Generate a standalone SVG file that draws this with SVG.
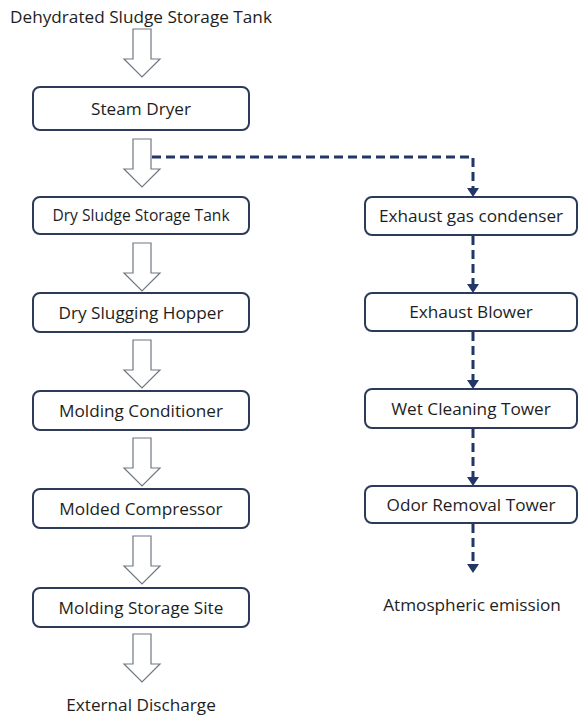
<svg xmlns="http://www.w3.org/2000/svg" xmlns:xlink="http://www.w3.org/1999/xlink" width="579" height="718" viewBox="0 0 579 718">
<style>
.box{fill:#fff;stroke:#2e3a5a;stroke-width:2}
.t{font-family:"Open Sans","Noto Sans","Liberation Sans",sans-serif;font-size:17.2px;fill:#1e1e1e;text-anchor:middle}
.ts{font-size:15.6px}
.hollow{fill:#fff;stroke:#707784;stroke-width:1.2}
.dash{fill:none;stroke:#233766;stroke-width:3;stroke-dasharray:9 5}
</style>
<defs>
<path id="harrow" class="hollow" d="M-9 0H9V30H18L0 48L-18 30H-9Z"/>
</defs>
<rect width="579" height="718" fill="#fff"/>
<text class="t" x="141" y="23">Dehydrated Sludge Storage Tank</text>
<g id="connectors">
<use href="#harrow" x="142" y="29"/>
<use href="#harrow" x="142" y="139"/>
<use href="#harrow" x="142" y="243"/>
<use href="#harrow" x="142" y="340"/>
<use href="#harrow" x="142" y="438"/>
<use href="#harrow" x="142" y="536"/>
<use href="#harrow" x="142" y="634"/>
<path class="dash" d="M152 157H473V190"/>
<path class="dash" d="M473 236V285"/>
<path class="dash" d="M473 332V381"/>
<path class="dash" d="M473 429V478"/>
<path class="dash" d="M473 524V564"/>
<path d="M467 188H479L473 197Z" fill="#233766"/>
<path d="M467 284H479L473 293Z" fill="#233766"/>
<path d="M467 380H479L473 389Z" fill="#233766"/>
<path d="M467 477H479L473 486Z" fill="#233766"/>
<path d="M467 564H479L473 573Z" fill="#233766"/>
</g>
<g id="steam-dryer"><rect class="box" x="33" y="87" width="216" height="43" rx="7"/><text class="t" x="141" y="115">Steam Dryer</text></g>
<g id="dry-sludge-storage-tank"><rect class="box" x="33" y="197" width="216" height="37" rx="7"/><text class="t ts" x="141" y="221">Dry Sludge Storage Tank</text></g>
<g id="dry-slugging-hopper"><rect class="box" x="33" y="293" width="216" height="39" rx="7"/><text class="t" x="141" y="319">Dry Slugging Hopper</text></g>
<g id="molding-conditioner"><rect class="box" x="33" y="391" width="216" height="39" rx="7"/><text class="t" x="141" y="417">Molding Conditioner</text></g>
<g id="molded-compressor"><rect class="box" x="33" y="489" width="216" height="39" rx="7"/><text class="t" x="141" y="515">Molded Compressor</text></g>
<g id="molding-storage-site"><rect class="box" x="33" y="588" width="216" height="39" rx="7"/><text class="t" x="141" y="614">Molding Storage Site</text></g>
<text class="t" x="141" y="711">External Discharge</text>
<g id="exhaust-gas-condenser"><rect class="box" x="365" y="197" width="212" height="38" rx="7"/><text class="t" x="471" y="222">Exhaust gas condenser</text></g>
<g id="exhaust-blower"><rect class="box" x="365" y="293" width="212" height="38" rx="7"/><text class="t" x="471" y="318">Exhaust Blower</text></g>
<g id="wet-cleaning-tower"><rect class="box" x="365" y="389" width="212" height="39" rx="7"/><text class="t" x="471" y="415">Wet Cleaning Tower</text></g>
<g id="odor-removal-tower"><rect class="box" x="365" y="486" width="212" height="37" rx="7"/><text class="t" x="471" y="511">Odor Removal Tower</text></g>
<text class="t" x="472" y="611">Atmospheric emission</text>
</svg>
